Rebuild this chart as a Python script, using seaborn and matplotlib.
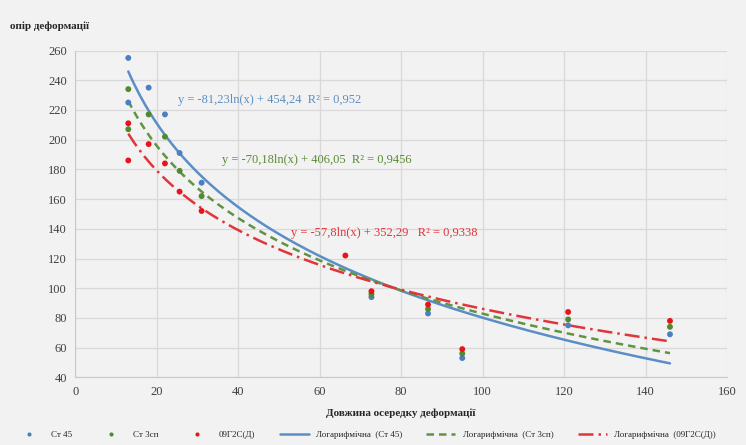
import numpy as np
import pandas as pd
import seaborn as sns
import matplotlib.pyplot as plt

# Data
x_st45 = [13, 13, 18, 22, 25.6, 31, 72.7, 86.6, 95, 121, 146]
y_st45 = [255, 225, 235, 217, 191, 171, 94, 83, 53, 75, 69]

x_st3 = [13, 13, 18, 22, 25.6, 31, 72.7, 86.6, 95, 121, 146]
y_st3 = [234, 207, 217, 202, 179, 162, 96, 86, 56, 79, 74]

x_09g = [13, 13, 18, 22, 25.6, 31, 66.3, 72.7, 86.6, 95, 121, 146]
y_09g = [211, 186, 197, 184, 165, 152, 122, 98, 89, 59, 84, 78]

series = ["Ст 45", "Ст 3сп", "09Г2С(Д)"]
# logarithmic trendline coefficients, as printed on the chart
slopes = [-81.23, -70.18, -57.8]
intercepts = [454.24, 406.05, 352.29]
eq_labels = ["y = -81,23ln(x) + 454,24  R² = 0,952",
             "y = -70,18ln(x) + 406,05  R² = 0,9456",
             "y = -57,8ln(x) + 352,29   R² = 0,9338"]

colors = ["#4a7fc1", "#4f8a2e", "#e8141b"]
line_colors = ["#5b8ec6", "#5f9440", "#e0353b"]
eq_colors = ["#5b8ec6", "#5a8a35", "#e0353b"]

# -----------------------------
# Build long-form tables
# -----------------------------
pts = pd.concat([
    pd.DataFrame({"x": x_st45, "y": y_st45, "series": series[0]}),
    pd.DataFrame({"x": x_st3, "y": y_st3, "series": series[1]}),
    pd.DataFrame({"x": x_09g, "y": y_09g, "series": series[2]}),
], ignore_index=True)

trend_frames = []
for name, xs, a, b in zip(series, [x_st45, x_st3, x_09g], slopes, intercepts):
    xx = np.linspace(min(xs), max(xs), 200)
    trend_frames.append(pd.DataFrame({"x": xx, "y": a * np.log(xx) + b,
                                      "series": "Логарифмічна  (" + name + ")"}))
trend = pd.concat(trend_frames, ignore_index=True)

# -----------------------------
# Plot
# -----------------------------
sns.set_style("whitegrid")
plt.rcParams["font.family"] = ["Liberation Serif", "DejaVu Serif"]

fig = plt.figure(figsize=(7.46, 4.45), dpi=100, facecolor="#f2f2f2")
ax = fig.add_axes([0.101, 0.152, 0.8735, 0.7345])
ax.set_facecolor("#f2f2f2")

sns.scatterplot(data=pts, x="x", y="y", hue="series", palette=colors,
                s=18, edgecolor="none", ax=ax, zorder=3)

trend_names = list(trend["series"].unique())
styles = ["-", (0, (3, 2)), (0, (6, 2, 1, 2))]
for name, col, ls in zip(trend_names, line_colors, styles):
    sub = trend[trend["series"] == name]
    sns.lineplot(data=sub, x="x", y="y", color=col, linestyle=ls,
                 linewidth=1.8, ax=ax, label=name, zorder=2)

ax.set_xlim(0, 160)
ax.set_ylim(40, 260)
ax.set_xticks(range(0, 161, 20))
ax.set_yticks(range(40, 261, 20))
ax.tick_params(length=0, labelsize=9, colors="#404040", pad=6)
ax.grid(color="#d9d9d9", linewidth=0.9)
for side in ["top", "right"]:
    ax.spines[side].set_visible(False)
for side in ["left", "bottom"]:
    ax.spines[side].set_color("#c8c8c8")

ax.set_xlabel("Довжина осередку деформації", fontsize=8, fontweight="bold",
              color="#262626", labelpad=8)
ax.set_ylabel("")
fig.text(0.013, 0.935, "опір деформації", fontsize=8, fontweight="bold",
         color="#262626")

# trendline equations
eq_pos = [(25.2, 227), (36, 186), (53, 137)]
for (tx, ty), txt, col in zip(eq_pos, eq_labels, eq_colors):
    ax.text(tx, ty, txt, fontsize=9, color=col, va="center", ha="left")

handles, labels = ax.get_legend_handles_labels()
ax.legend(handles, labels, loc="center", bbox_to_anchor=(0.445, -0.177),
          ncol=6, frameon=False, fontsize=6.5, handlelength=3.2,
          columnspacing=2.7, markerscale=0.7)

plt.savefig("out.png", dpi=100, facecolor=fig.get_facecolor())
